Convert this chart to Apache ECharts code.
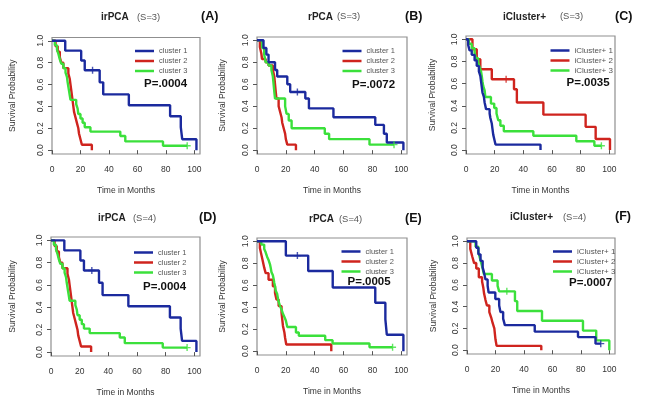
<!DOCTYPE html>
<html><head><meta charset="utf-8">
<script src="https://cdn.jsdelivr.net/npm/echarts@6/dist/echarts.min.js"></script>
<style>html,body{margin:0;padding:0;background:#fff}#c{width:645px;height:404px}</style>
</head><body><div id="c"></div>
<script>
// ---------- DATA ----------
const methods = ['irPCA','rPCA','iCluster+','irPCA','rPCA','iCluster+'];
const sizes = ['(S=3)','(S=3)','(S=3)','(S=4)','(S=4)','(S=4)'];
const letters = ['(A)','(B)','(C)','(D)','(E)','(F)'];
const pValues = ['P=.0004','P=.0072','P=.0035','P=.0004','P=.0005','P=.0007'];
const clusterNames = ['cluster 1','cluster 2','cluster 3'];
const iclusterNames = ['iCluster+ 1','iCluster+ 2','iCluster+ 3'];
const xTicks = [0,20,40,60,80,100];
const yTicks = [0,0.2,0.4,0.6,0.8,1.0];

// Kaplan-Meier steps: [month, survival]
const A1 = [[0,1],[9.3,0.91],[20.5,0.82],[23,0.73],[33.5,0.62],[36,0.51],[54,0.41],[83,0.31],[90.5,0.21],[91.5,0.10],[101.5,0]];
const A2 = [[0,1],[2.5,0.95],[4,0.9],[5.5,0.85],[6.5,0.8],[8,0.75],[11.5,0.7],[12.5,0.65],[13,0.6],[13.5,0.55],[14,0.5],[14.5,0.45],[15,0.4],[15.5,0.35],[16.5,0.3],[17.5,0.25],[18.5,0.2],[19,0.15],[20,0.1],[21,0.05],[28,0]];
const A3 = [[0,1],[2,0.96],[3.5,0.92],[4.5,0.88],[5.5,0.83],[6.5,0.79],[8,0.75],[9.5,0.71],[10.5,0.67],[11,0.62],[11.5,0.58],[12,0.54],[12.5,0.5],[13,0.46],[17,0.42],[18,0.38],[18.5,0.33],[20,0.29],[21.5,0.25],[23,0.21],[27,0.17],[48,0.13],[51.5,0.08],[78,0.04],[95,0.04]];
const B1 = [[0,1],[4.5,0.93],[6.5,0.87],[8,0.8],[12.5,0.73],[14,0.67],[21,0.6],[23,0.53],[33.5,0.47],[36,0.38],[53,0.3],[82,0.23],[88,0.15],[90,0.07],[101.5,0]];
const B2 = [[0,1],[2,0.94],[3,0.88],[3.5,0.83],[6,0.8],[8,0.77],[11,0.73],[12,0.67],[12.5,0.6],[13,0.53],[13.5,0.47],[15,0.4],[16,0.35],[17,0.3],[17.5,0.25],[18.5,0.2],[19.5,0.15],[20,0.1],[21,0.05],[27,0]];
const B3 = [[0,1],[3.5,0.93],[5,0.87],[6,0.8],[8,0.77],[10,0.73],[11,0.67],[11.5,0.6],[12,0.53],[12.5,0.47],[19.5,0.4],[20.5,0.33],[22,0.27],[24,0.2],[47,0.15],[50,0.1],[78,0.05],[95,0.05]];
const C1 = [[0,1],[1.5,0.95],[2.5,0.9],[4,0.86],[6,0.81],[7.5,0.76],[9,0.71],[10,0.67],[10.5,0.62],[11,0.57],[11.5,0.52],[12.5,0.48],[13,0.43],[14,0.37],[16.5,0.33],[17,0.29],[18,0.24],[18.5,0.19],[19,0.14],[19.7,0.1],[20.6,0.05],[52,0]];
const C2 = [[0,1],[4.5,0.91],[7.5,0.82],[10,0.73],[18,0.64],[33.5,0.55],[35.5,0.43],[54,0.32],[83.5,0.21],[90.5,0.1],[100.5,0]];
const C3 = [[0,1],[2,0.96],[4,0.92],[6,0.88],[7,0.83],[8.5,0.79],[9.5,0.75],[10.5,0.71],[11,0.67],[11.5,0.62],[12,0.58],[13,0.54],[13.5,0.48],[17.4,0.42],[19.7,0.38],[21.3,0.33],[22.5,0.27],[24,0.22],[26.4,0.17],[47,0.13],[77,0.08],[89.6,0.04],[94.5,0.04]];
const D1 = A1, D2 = A2, D3 = A3;
const E1 = [[0,1],[20,0.87],[35.5,0.73],[52.5,0.58],[82,0.44],[89,0.29],[90,0.15],[101.5,0]];
const E2 = [[0,1],[2,0.94],[3,0.88],[4,0.82],[5,0.76],[6,0.71],[8,0.65],[11,0.59],[12.5,0.53],[13.5,0.47],[15,0.41],[17,0.35],[17.5,0.29],[18,0.23],[19,0.17],[19.5,0.12],[20.3,0.06],[51.5,0]];
const E3 = [[0,1],[3,0.97],[5,0.93],[6,0.9],[7,0.86],[8,0.83],[9,0.79],[9.5,0.76],[10,0.72],[11,0.69],[11.5,0.66],[12,0.62],[12.5,0.59],[13,0.55],[14,0.52],[14.5,0.48],[15,0.45],[16,0.41],[17,0.38],[18,0.34],[19,0.31],[20,0.28],[21,0.22],[27,0.17],[29,0.14],[47.3,0.1],[52.4,0.07],[78,0.035],[94,0.035]];
const F1 = [[0,1],[6.5,0.94],[8,0.88],[9.5,0.82],[11,0.76],[12,0.71],[13,0.65],[14.5,0.59],[15.2,0.53],[19.9,0.47],[22.6,0.41],[23.5,0.35],[25.4,0.29],[26.6,0.23],[47.6,0.17],[78,0.12],[90.3,0.06],[94,0.06]];
const F2 = [[0,1],[2.3,0.93],[3.7,0.86],[5,0.8],[6.5,0.75],[8.3,0.67],[10.6,0.63],[11.5,0.57],[12,0.52],[13,0.46],[14,0.41],[15.7,0.35],[17,0.3],[18,0.25],[19.2,0.2],[19.6,0.15],[20,0.1],[20.8,0.04],[52.2,0]];
const F3 = [[0,1],[6,0.95],[8,0.9],[9,0.85],[10,0.8],[11,0.75],[11.8,0.7],[17.5,0.64],[21.5,0.59],[22.6,0.54],[33.7,0.45],[35.3,0.36],[52.7,0.27],[81.5,0.18],[90.8,0.09],[100,0]];

// censor marks: [month, survival] per cluster
const censorA = [[[28.5,0.73]],[],[[95,0.04]]];
const censorB = [[[28,0.53]],[],[[95,0.05]]];
const censorC = [[],[[28,0.64]],[[94.5,0.04]]];
const censorD = censorA;
const censorE = [[[28,0.87]],[],[[94,0.035]]];
const censorF = [[[94,0.06]],[],[[28,0.54]]];

// ---------- LAYOUT / STYLE ----------
const colors = ['#1b2a9e','#cf241e','#3be03b'];
const FONT = '"Liberation Sans", Arial, Helvetica, sans-serif';
const panels = [
  {curves:[A1,A2,A3], cens:censorA, names:clusterNames, grid:[52,37.5,148,116.5], leg:[135,46], pv:[144,84.5], ty:18.5, mx:101, sx:137, lx:201, yGap:35, legFont:7.5},
  {curves:[B1,B2,B3], cens:censorB, names:clusterNames, grid:[257,37,150,117], leg:[342.5,46], pv:[352,85.5], ty:18, mx:308, sx:337, lx:405, yGap:30, legFont:7.5},
  {curves:[C1,C2,C3], cens:censorC, names:iclusterNames, grid:[466,36,149,118], leg:[550.5,45.5], pv:[566.5,83.5], ty:18, mx:503, sx:560, lx:615, yGap:29, legFont:8},
  {curves:[D1,D2,D3], cens:censorD, names:clusterNames, grid:[51,237,149,119], leg:[134,247.5], pv:[143,287.5], ty:219.5, mx:98, sx:133, lx:199, yGap:34, legFont:7.5},
  {curves:[E1,E2,E3], cens:censorE, names:clusterNames, grid:[257,238,150,117], leg:[341.5,246.5], pv:[347.5,282.5], ty:220.5, mx:309, sx:339, lx:405, yGap:30, legFont:7.5},
  {curves:[F1,F2,F3], cens:censorF, names:iclusterNames, grid:[467,238,148,116], leg:[553,246.5], pv:[569,283.5], ty:218.5, mx:510, sx:563, lx:615, yGap:29, legFont:8}
];

const plusPath = 'path://M4,0H6V4H10V6H6V10H4V6H0V4H4Z';
const grid = [], xAxis = [], yAxis = [], series = [], legend = [], graphic = [];
panels.forEach((p, i) => {
  grid.push({left:p.grid[0], top:p.grid[1], width:p.grid[2], height:p.grid[3], show:true,
    borderColor:'#8f8f8f', borderWidth:1.2, backgroundColor:'transparent', containLabel:false});
  xAxis.push({gridIndex:i, type:'value', min:0, max:104,
    axisLine:{show:false}, splitLine:{show:false},
    axisTick:{show:true, length:4, customValues:xTicks, lineStyle:{color:'#555'}},
    axisLabel:{customValues:xTicks, fontSize:8.5, color:'#333', margin:11, fontFamily:FONT},
    name:'Time in Months', nameLocation:'middle', nameGap:32,
    nameTextStyle:{fontSize:8.5, color:'#333', fontFamily:FONT}});
  yAxis.push({gridIndex:i, type:'value', min:-0.035, max:1.03,
    axisLine:{show:false}, splitLine:{show:false},
    axisTick:{show:true, length:4, customValues:yTicks, lineStyle:{color:'#555'}},
    axisLabel:{customValues:yTicks, rotate:90, fontSize:8.5, color:'#333', margin:7, fontFamily:FONT,
      formatter:v => Number(v).toFixed(1)},
    name:'Survival Probability', nameLocation:'middle', nameGap:p.yGap,
    nameTextStyle:{fontSize:8.5, color:'#333', fontFamily:FONT}});
  p.curves.forEach((d, k) => {
    series.push({type:'line', name:p.names[k], xAxisIndex:i, yAxisIndex:i, data:d, step:'end',
      symbol:'none', showSymbol:false, color:colors[k], lineStyle:{width:2.4, color:colors[k]},
      animation:false, z:3 + (k === 0 ? 2 : (k === 2 ? 1 : 0))});
    if (p.cens[k].length) {
      series.push({type:'scatter', name:'censored ' + letters[i] + k, xAxisIndex:i, yAxisIndex:i,
        data:p.cens[k], symbol:plusPath, symbolSize:7, itemStyle:{color:colors[k]}, animation:false, z:6});
    }
  });
  legend.push({orient:'vertical', left:p.leg[0], top:p.leg[1], padding:0, itemGap:0,
    itemWidth:19, itemHeight:2.5, icon:'rect', selectedMode:false, data:p.names,
    textStyle:{fontSize:p.legFont, color:'#555', lineHeight:10, fontFamily:FONT}});
  graphic.push({type:'text', left:p.pv[0], top:p.pv[1]-7, style:{text:pValues[i], font:'bold 11.5px ' + FONT, fill:'#111'}});
  graphic.push({type:'text', left:p.mx, top:p.ty-6, style:{text:methods[i], font:'bold 10px ' + FONT, fill:'#222'}});
  graphic.push({type:'text', left:p.sx, top:p.ty-6, style:{text:sizes[i], font:'9.4px ' + FONT, fill:'#555'}});
  graphic.push({type:'text', left:p.lx, top:p.ty-8, style:{text:letters[i], font:'bold 12.5px ' + FONT, fill:'#111'}});
});

const chart = echarts.init(document.getElementById('c'), null, {renderer:'canvas'});
chart.setOption({animation:false, backgroundColor:'#fff', textStyle:{fontFamily:FONT},
  grid, xAxis, yAxis, series, legend, graphic});
</script></body></html>
